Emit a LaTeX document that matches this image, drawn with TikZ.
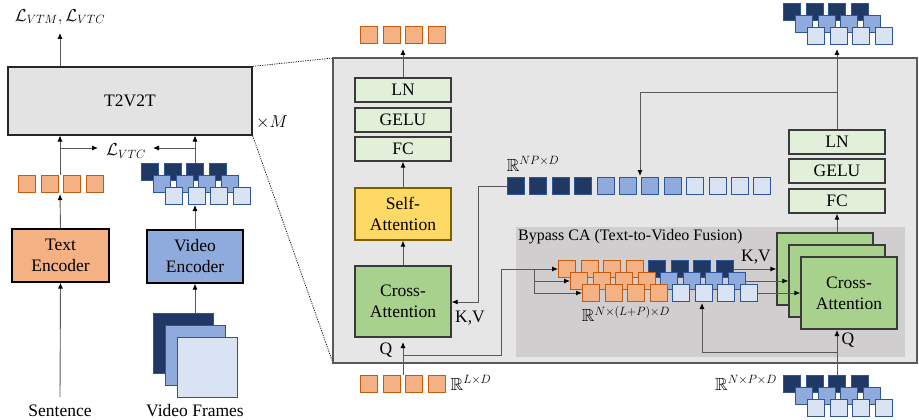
\documentclass[tikz,border=0pt]{standalone}
\usepackage{amsmath,amssymb}
\usepackage{fontspec}
\setmainfont{Liberation Serif}
\usetikzlibrary{arrows.meta}
\definecolor{orF}{HTML}{F4B183}
\definecolor{orD}{HTML}{C55A11}
\definecolor{dbF}{HTML}{203864}
\definecolor{blB}{HTML}{2F5597}
\definecolor{mbF}{HTML}{8FAADC}
\definecolor{lbF}{HTML}{DAE3F3}
\definecolor{lgF}{HTML}{E2F0D9}
\definecolor{gF}{HTML}{A9D18E}
\definecolor{yF}{HTML}{FFD966}
\definecolor{yD}{HTML}{7F6000}
\definecolor{panelF}{HTML}{E6E6E6}
\definecolor{bypF}{HTML}{D0CECE}
\definecolor{lnC}{HTML}{595959}
\definecolor{boxD}{HTML}{3A3A3A}
\tikzset{
  tok/.style={minimum size=17pt, inner sep=0pt, line width=1pt, anchor=north west},
  otok/.style={tok, fill=orF, draw=orD},
  dtok/.style={tok, fill=dbF, draw=blB},
  mtok/.style={tok, fill=mbF, draw=blB},
  ltok/.style={tok, fill=lbF, draw=blB},
  blk/.style={draw=boxD, line width=1.2pt, align=center, inner sep=0pt, minimum width=96pt},
  thinblk/.style={blk, fill=lgF, minimum height=24pt},
  conn/.style={draw=lnC, line width=0.9pt},
  arr/.style={conn, -{Latex[length=6pt,width=5pt,color=black]}},
  zoomline/.style={draw=black, line width=0.7pt, dash pattern=on 1.2pt off 1.2pt},
  lbl/.style={inner sep=0pt},
}
\begin{document}
\begin{tikzpicture}[x=1pt,y=-1pt, every node/.style={font=\fontsize{17.5}{21}\selectfont}]
\useasboundingbox (0,0) rectangle (919,420);

% ---------------- left part ----------------
\node[blk, fill=black!11, draw=black!85, minimum width=244pt, minimum height=68pt] (t2v) at (130,101) {T2V2T};
\node[lbl] (xm) at (272,122) {$\times M$};
\node[lbl] (loss) at (60,17) {$\mathcal{L}_{VTM},\mathcal{L}_{VTC}$};
\node[lbl] (lvtc) at (126,151) {$\mathcal{L}_{VTC}$};
\node[blk, fill=orF, draw=black, minimum width=97pt, minimum height=53pt] (tenc) at (60.5,255.5) {Text\\Encoder};
\node[blk, fill=mbF, draw=black, minimum width=96pt, minimum height=53pt] (venc) at (195,256.5) {Video\\Encoder};
\node[lbl] (sent) at (60,411) {Sentence};
\node[lbl] (vfr) at (195,411) {Video Frames};

% text tokens
\foreach \i in {0,...,3} \node[otok] (tt\i) at ({18+22.5*\i},175) {};
% video tokens (left)
\foreach \i in {0,...,3} \node[dtok] (va\i) at ({141+22.5*\i},163) {};
\foreach \i in {0,...,3} \node[mtok] (vb\i) at ({153+22.5*\i},175) {};
\foreach \i in {0,...,3} \node[ltok] (vc\i) at ({165+22.5*\i},187) {};
% video frames
\node[tok, fill=dbF, draw=blB, minimum size=60pt] (fa) at (153,313) {};
\node[tok, fill=mbF, draw=blB, minimum size=60pt] (fb) at (165,325) {};
\node[tok, fill=lbF, draw=blB, minimum size=60pt] (fc) at (177,337) {};

\coordinate (sentTop) at (60,397);
\draw[arr] (sentTop) -- (tenc.south);
\draw[arr] (tenc.north) -- (60,194);
\draw[arr] (60,175) -- (60,135.5);
\draw[arr] (fa.north -| venc.south) -- (venc.south);
\draw[arr] (venc.north) -- (195,205);
\draw[arr] (195,163) -- (195,135.5);
\draw[arr] (t2v.north -| 60,0) -- (60,33);
\draw[arr] (60,148) -- (98,148);
\draw[arr] (195,148) -- (153,148);

% zoom lines
\coordinate (pTL) at (333,58);
\coordinate (pBL) at (333,363);
\draw[zoomline] (t2v.north east) -- (pTL);
\draw[zoomline] (t2v.south east) -- (pBL);

% ---------------- panel ----------------
\path[fill=panelF, draw=lnC, line width=1.5pt] (pTL) rectangle (917,363);
\path[fill=bypF] (516,227) rectangle (905,357);
\node[lbl, anchor=west, font=\fontsize{16}{19}\selectfont] (byplbl) at (518,237) {Bypass CA (Text-to-Video Fusion)};

% left column
\node[thinblk] (ln1) at (403,90) {LN};
\node[thinblk] (ge1) at (403,120) {GELU};
\node[thinblk] (fc1) at (403,149) {FC};
\node[blk, fill=yF, draw=yD, minimum height=52pt] (sa) at (403,214) {Self-\\Attention};
\node[blk, fill=gF, minimum height=71pt] (ca1) at (403,301.5) {Cross-\\Attention};
\foreach \i in {0,...,3} \node[otok] (ot\i) at ({360+22.5*\i},26) {};
\foreach \i in {0,...,3} \node[otok] (it\i) at ({360+22.5*\i},375) {};
\node[lbl] (rld) at (471,383) {$\mathbb{R}^{L\times D}$};
\node[lbl] (q1) at (386,350) {Q};
\node[lbl] (kv1) at (470,318) {K,V};

\draw[arr] (ln1.north) -- (403,49);
\draw[arr] (sa.north) -- (fc1.south);
\draw[arr] (ca1.north) -- (sa.south);
\draw[arr] (403,375) -- (403,342);

% NP x D row
\foreach \i in {0,...,3} \node[dtok] (np\i) at ({507+22.4*\i},177) {};
\foreach \i in {4,...,7} \node[mtok] (np\i) at ({507+22.4*\i},177) {};
\foreach \i in {8,...,11} \node[ltok] (np\i) at ({507+22.4*\i},177) {};
\node[lbl] (rnp) at (533,164) {$\mathbb{R}^{NP\times D}$};
\draw[arr] (np0.west) -- (478,186) -- (478,302) -- (ca1.east |- 0,302);

% bypass tokens
\foreach \i in {0,...,3} \node[otok] (ba\i) at ({558+22.5*\i},260) {};
\foreach \i in {0,...,3} \node[dtok] (bd\i) at ({648+22.5*\i},260) {};
\foreach \i in {0,...,3} \node[otok] (bb\i) at ({570+22.5*\i},272) {};
\foreach \i in {0,...,3} \node[mtok] (be\i) at ({660+22.5*\i},272) {};
\foreach \i in {0,...,3} \node[otok] (bc\i) at ({582+22.5*\i},284) {};
\foreach \i in {0,...,3} \node[ltok] (bf\i) at ({672+22.5*\i},284) {};
\node[lbl] (rnlp) at (626,314) {$\mathbb{R}^{N\times(L+P)\times D}$};

\coordinate (br) at (534,269);
\draw[conn] (403,355) -- (501,355) -- (501,269) -- (br);
\draw[arr] (br) -- (ba0.west);
\draw[conn] (br) -- (534,293);
\draw[arr] (534,281) -- (bb0.west);
\draw[arr] (534,293) -- (bc0.west);

% right column
\node[thinblk] (ln2) at (837,142) {LN};
\node[thinblk] (ge2) at (837,171) {GELU};
\node[thinblk] (fc2) at (837,201) {FC};
\node[blk, fill=gF, minimum height=72pt] (ca2a) at (825,269) {};
\node[blk, fill=gF, minimum height=72pt] (ca2b) at (837,281) {};
\node[blk, fill=gF, minimum height=72pt] (ca2c) at (849,293) {Cross-\\Attention};
\draw[arr] (ca2a.north -| fc2.south) -- (fc2.south);
\draw[arr] (bd3.east) -- (ca2a.west |- bd3.east);
\draw[arr] (be3.east) -- (ca2b.west |- be3.east);
\draw[arr] (bf3.east) -- (ca2c.west |- bf3.east);
\node[lbl] (kv2) at (756,257) {K,V};
\node[lbl] (q2) at (848,340) {Q};

% bottom right tokens
\foreach \i in {0,...,3} \node[dtok] (ra\i) at ({783+22.5*\i},375) {};
\foreach \i in {0,...,3} \node[mtok] (rb\i) at ({795+22.5*\i},387) {};
\foreach \i in {0,...,3} \node[ltok] (rc\i) at ({807+22.5*\i},399) {};
\node[lbl] (rnpd) at (746,383) {$\mathbb{R}^{N\times P\times D}$};
\draw[arr] (837,375) -- (837,330);
\draw[arr] (837,352) -- (702,352) -- (702,303);

% top right tokens
\foreach \i in {0,...,3} \node[dtok] (ua\i) at ({783+22.5*\i},3) {};
\foreach \i in {0,...,3} \node[mtok] (ub\i) at ({795+22.5*\i},15) {};
\foreach \i in {0,...,3} \node[ltok] (uc\i) at ({807+22.5*\i},27) {};
\draw[arr] (ln2.north) -- (837,49);
\draw[arr] (837,92) -- (640,92) -- (640,176);
\end{tikzpicture}
\end{document}
